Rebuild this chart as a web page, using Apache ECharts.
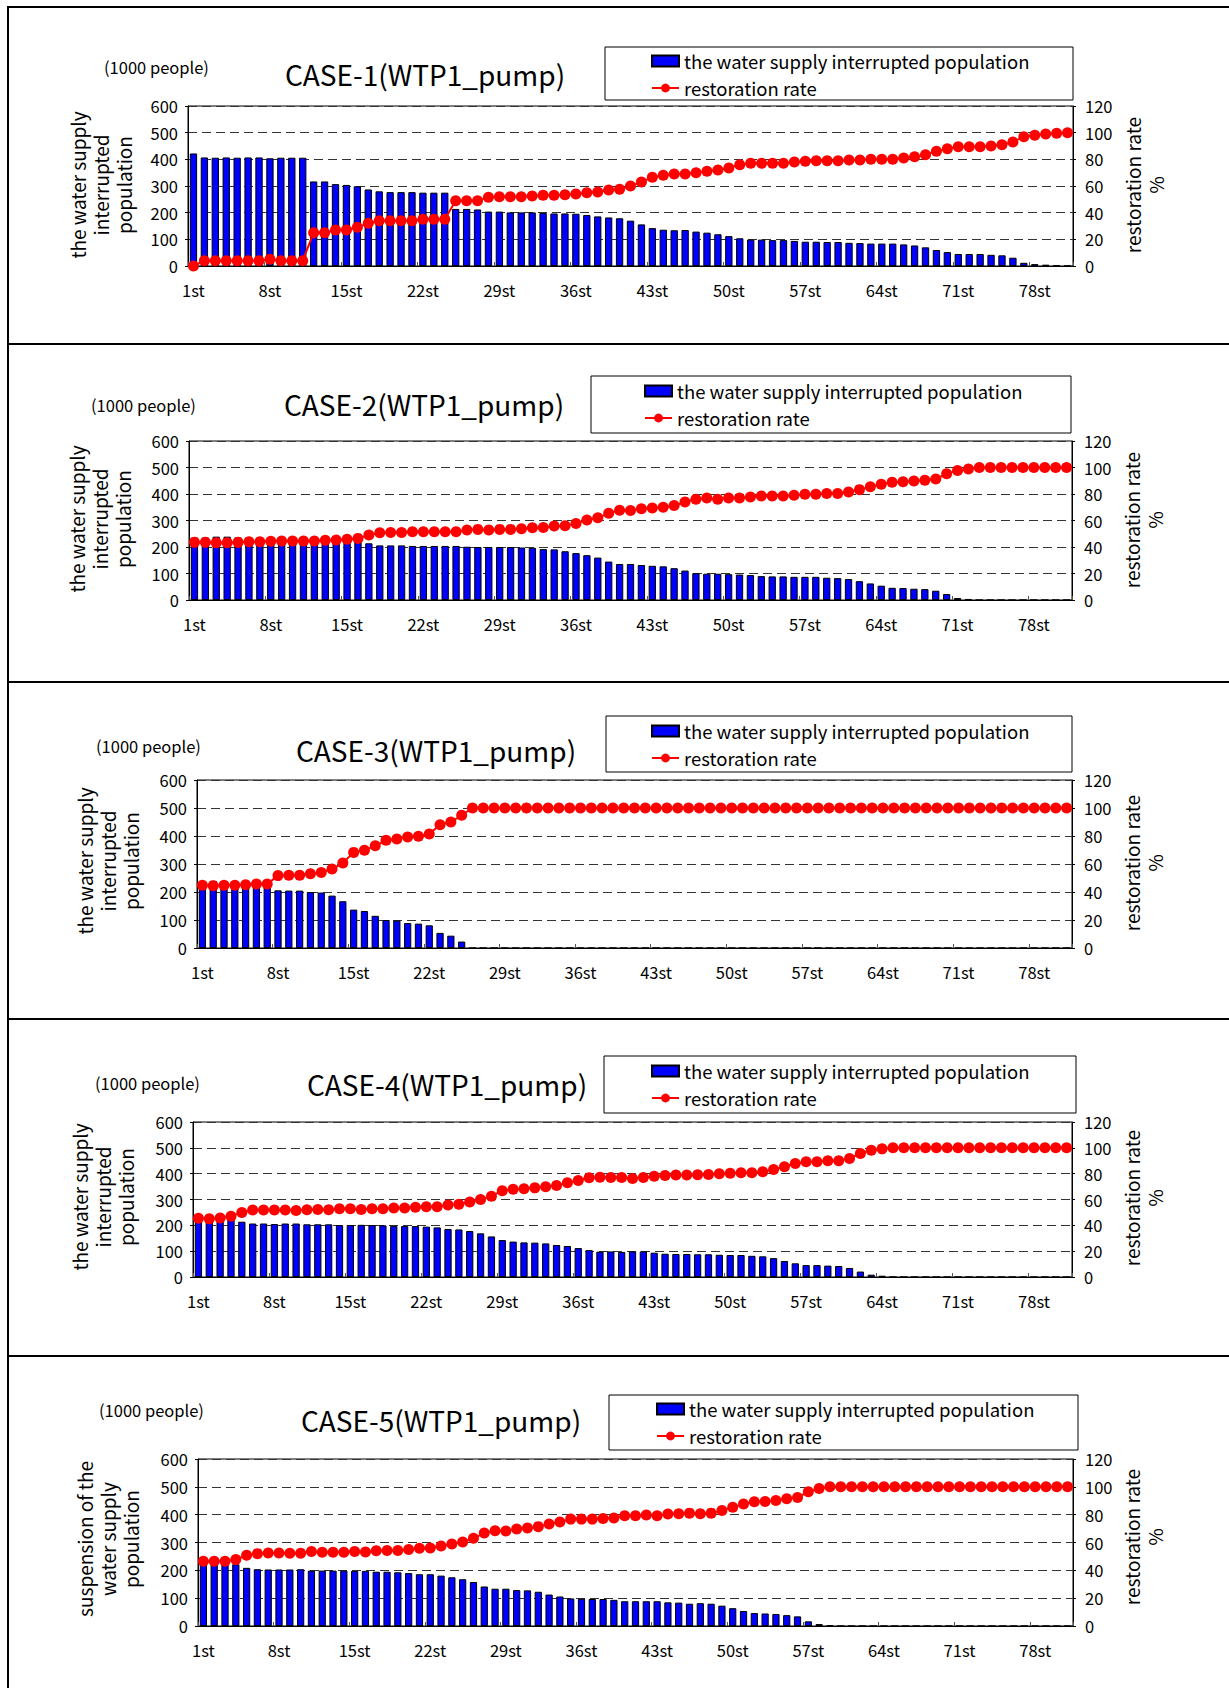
<!DOCTYPE html>
<html><head><meta charset="utf-8">
<script src="https://cdn.jsdelivr.net/npm/echarts@6/dist/echarts.min.js"></script>
<style>html,body{margin:0;padding:0;background:#fff}#c{width:1229px;height:1688px}</style>
</head><body><div id="c"></div>
<script>
// ---------- DATA ----------
const categories = ["1st","2st","3st","4st","5st","6st","7st","8st","9st","10st",
"11st","12st","13st","14st","15st","16st","17st","18st","19st","20st",
"21st","22st","23st","24st","25st","26st","27st","28st","29st","30st",
"31st","32st","33st","34st","35st","36st","37st","38st","39st","40st",
"41st","42st","43st","44st","45st","46st","47st","48st","49st","50st",
"51st","52st","53st","54st","55st","56st","57st","58st","59st","60st",
"61st","62st","63st","64st","65st","66st","67st","68st","69st","70st",
"71st","72st","73st","74st","75st","76st","77st","78st","79st","80st","81st"];

const popTicks = [0,100,200,300,400,500,600];
const rateTicks = [0,20,40,60,80,100,120];

const seriesNames = ["the water supply interrupted population","restoration rate"];
const titles = ["CASE-1(WTP1_pump)","CASE-2(WTP1_pump)","CASE-3(WTP1_pump)","CASE-4(WTP1_pump)","CASE-5(WTP1_pump)"];
const unitLabel = "(1000 people)";
const leftAxisNames = ["the water supply\ninterrupted\npopulation","the water supply\ninterrupted\npopulation","the water supply\ninterrupted\npopulation","the water supply\ninterrupted\npopulation","suspension of the\nwater supply\npopulation"];
const rightAxisName = "restoration rate\n%";

const pop1 = [422,407,406,407,406,407,407,404,406,406,
406,317,317,307,304,299,287,280,277,277,
277,275,275,275,214,214,212,204,204,201,
201,201,199,197,197,196,191,186,182,179,
170,156,142,136,134,135,129,125,119,112,
104,99,99,97,97,94,91,91,90,90,
87,86,84,84,84,81,77,70,60,52,
45,45,45,42,40,31,12,7,5,2,1];
const rate1 = [0,4,4,4,4,4,4,5,4,4,
4,25,25,27,27,29,32,34,34,34,
34,35,35,35,49,49,49,51.5,52,52,
52,52.5,53,53,53.5,54,55,55.5,57,57.5,
60,63,66.5,68,69,69,70,71,72,73.5,
76,77,77,77,77,78,78.5,79,79,79,
79.5,79.5,80,80,80,81,82,83.5,86,88,
89.5,89.5,89.5,90,91,93,97,98,99,99.5,100];

const pop2 = [236,236,239,239,236,236,236,235,233,233,
233,233,233,233,233,230,214,206,206,206,
204,204,204,204,204,201,200,200,200,200,
198,197,192,191,184,177,169,160,145,136,
136,132,129,127,120,111,101,99,99,97.5,
96,94,90,89,89,87.5,87.5,87.5,84,82.5,
79,71,62.5,54,46,45,42.5,41,35,22.5,
7.5,4,0,0,0,0,0,0,0,0,0];
const rate2 = [43.5,43.5,43.3,43.3,43.5,44,44,44.3,44.5,44.5,
44.5,44.5,45,45.3,45.8,46.5,49,50.8,51,51,
51.5,51.5,51.5,51.5,51.5,52.8,53.3,52.8,53.3,53.3,
53.8,54.5,54.8,55.8,56,57.8,60.3,62,65.5,67.8,
67.5,68.8,69.5,70,71.3,74,76,77,76,77,
77,77.8,78.5,78.5,78.5,79,79.8,79.8,80.3,80.3,
81.5,83.3,85.5,87.3,88.8,89.3,89.8,90.3,91.3,95.3,
97.8,98.8,100,100,100,100,100,100,100,100,100];

const pop3 = [236,240,236,236,236,236,232,206,205,205,
200,198,187,167,137,132,115,100,98,89,
87,81,54,44,23,0,0,0,0,0,
0,0,0,0,0,0,0,0,0,0,
0,0,0,0,0,0,0,0,0,0,
0,0,0,0,0,0,0,0,0,0,
0,0,0,0,0,0,0,0,0,0,
0,0,0,0,0,0,0,0,0,0,0];
const rate3 = [44.8,44.5,44.8,44.8,45.2,45.7,45.7,51.7,52,52,
53,54,56.4,60.7,68.3,69.8,73,76.9,77.9,79.3,
79.8,81.4,88,90,94.8,100,100,100,100,100,
100,100,100,100,100,100,100,100,100,100,
100,100,100,100,100,100,100,100,100,100,
100,100,100,100,100,100,100,100,100,100,
100,100,100,100,100,100,100,100,100,100,
100,100,100,100,100,100,100,100,100,100,100];

const pop4 = [222,220,220,228,214,207,207,205,207,207,
204,204,204,201,201,202,201,200,198,197,
197,195,192,186,184,178,169,157,143,137,
134,133,130,124,120,112,104,98,99,97,
99,99,94,90,89,89,88,88,86,85,
85,82,80,73,62,53,46,46,44,42.5,
35,21,9,5,0,0,0,0,0,0,
0,0,0,0,0,0,0,0,0,0,0];
const rate4 = [45.4,45,45.6,47,50,51.8,51.8,51.8,51.8,51.5,
52,52.3,52,52.8,52.8,52.3,52.8,52.8,53.4,53.4,
54,54.4,54.4,55.7,56.4,58,60,62.6,66.8,68,
68.3,69,69.8,70.9,73,74.7,76.8,77.3,77,77,
76.3,77,78,78.6,79,79,79.2,79.4,80,80.4,
80.7,80.7,81.4,83.2,85.3,87.9,89.2,89.2,90,90,
91.8,95.6,98.2,99.2,100,100,100,100,100,100,
100,100,100,100,100,100,100,100,100,100,100];

const pop5 = [225,225,225,222,209,204,203,203,203,204,
199,199,199,199,198,198,195,195,193,190,
186,186,181,175,168,158,142,134,134,129,
128,123,113,106,99,98,97,97,94,89,
89,89,89,85,84,80,82,80,73,64,
54,46.5,45,43,39,34.6,16.7,7,3.5,0,
0,0,0,0,0,0,0,0,0,0,
0,0,0,0,0,0,0,0,0,0,0];
const rate5 = [46.5,46.5,46.5,47.7,50.8,52,52.5,52.5,52.3,52.3,
53.5,53,53,53,53.5,53.2,54,54.2,54.2,54.9,
55.8,56,57.5,59,60.4,63,66.8,68.5,68.3,69.7,
70.4,71.4,73.3,74.7,76.8,76.8,76.8,77.3,77.6,79.2,
79.2,79.7,79.2,80.4,80.7,81.1,80.7,81.1,83,85.4,
87.6,89.3,89.5,90.2,91.4,92.4,96.4,98.8,100,100,
100,100,100,100,100,100,100,100,100,100,
100,100,100,100,100,100,100,100,100,100,100];

const popSeries = [pop1,pop2,pop3,pop4,pop5];
const rateSeries = [rate1,rate2,rate3,rate4,rate5];

// ---------- LAYOUT (positions / styles) ----------
const FONT = '"Noto Sans CJK JP","Noto Sans",sans-serif';
const layout = [
  {grid:{left:188,top:106,width:885,height:160}, title:[425,74], unit:[104,67], lname:[100,185], rname:[1144,185], box:[605,47,468,53], legend:[651,51]},
  {grid:{left:189,top:441,width:883,height:159}, title:[424,404], unit:[91,405], lname:[99,519], rname:[1143,520], box:[591,376,480,57], legend:[644,381]},
  {grid:{left:197,top:780,width:875,height:168}, title:[436,750], unit:[96,746], lname:[107,861], rname:[1143,863], box:[606,716,466,56], legend:[651,721]},
  {grid:{left:193,top:1122,width:879,height:155}, title:[447,1084], unit:[95,1083], lname:[102,1197], rname:[1143,1198], box:[604,1056,472,57], legend:[651,1061]},
  {grid:{left:198,top:1459,width:875,height:167}, title:[441,1420], unit:[99,1410], lname:[107,1539], rname:[1143,1537], box:[609,1395,469,55], legend:[656,1399]}
];

const grids=[], xAxes=[], yAxes=[], series=[], legends=[], graphics=[];
layout.forEach((L,i)=>{
  grids.push(Object.assign({show:true,borderColor:'#000',borderWidth:1,containLabel:false,outerBoundsMode:'none'},L.grid));
  xAxes.push({type:'category',gridIndex:i,data:categories,boundaryGap:true,
    axisLine:{show:true,lineStyle:{color:'#000',width:1}},
    axisTick:{show:true,inside:true,interval:6,length:4,lineStyle:{color:'#555'}},
    axisLabel:{interval:6,margin:16,fontSize:16.5,color:'#000',fontFamily:FONT},
    splitLine:{show:false}});
  yAxes.push({type:'value',gridIndex:i,position:'left',min:popTicks[0],max:popTicks[popTicks.length-1],interval:popTicks[1]-popTicks[0],
    axisLine:{show:true,lineStyle:{color:'#000'}},axisTick:{show:true,length:3,lineStyle:{color:'#000'}},
    axisLabel:{margin:10,fontSize:16.5,color:'#000',fontFamily:FONT},
    splitLine:{show:true,lineStyle:{type:[9,5],color:'#333',width:1}}});
  yAxes.push({type:'value',gridIndex:i,position:'right',min:rateTicks[0],max:rateTicks[rateTicks.length-1],interval:rateTicks[1]-rateTicks[0],
    axisLine:{show:true,lineStyle:{color:'#000'}},axisTick:{show:true,length:3,lineStyle:{color:'#000'}},
    axisLabel:{margin:12,fontSize:16.5,color:'#000',fontFamily:FONT},
    splitLine:{show:false}});
  series.push({name:seriesNames[0],type:'bar',xAxisIndex:i,yAxisIndex:2*i,data:popSeries[i],
    barCategoryGap:'33%',itemStyle:{color:'#0000FF',borderColor:'#000',borderWidth:1},z:2});
  series.push({name:seriesNames[1],type:'line',xAxisIndex:i,yAxisIndex:2*i+1,data:rateSeries[i],
    symbol:'circle',symbolSize:11,showSymbol:true,showAllSymbol:true,lineStyle:{color:'#FF0000',width:2},itemStyle:{color:'#FF0000'},z:3});
  legends.push({left:L.legend[0],top:L.legend[1],orient:'vertical',itemWidth:27,itemHeight:11,itemGap:7,padding:0,
    textStyle:{fontSize:18.5,lineHeight:20,color:'#000',fontFamily:FONT},
    data:[{name:seriesNames[0],icon:'rect'},{name:seriesNames[1]}]});
  graphics.push({type:'rect',shape:{x:L.box[0],y:L.box[1],width:L.box[2],height:L.box[3]},style:{fill:null,stroke:'#000',lineWidth:1},z:1});
  graphics.push({type:'text',x:L.title[0],y:L.title[1],style:{text:titles[i],textAlign:'center',textVerticalAlign:'middle',fontSize:28,fontFamily:FONT,fill:'#000'}});
  graphics.push({type:'text',x:L.unit[0],y:L.unit[1],style:{text:unitLabel,textAlign:'left',textVerticalAlign:'middle',fontSize:16.5,fontFamily:FONT,fill:'#000'}});
  graphics.push({type:'text',x:L.lname[0],y:L.lname[1],rotation:Math.PI/2,style:{text:leftAxisNames[i],textAlign:'center',textVerticalAlign:'middle',fontSize:19,lineHeight:23,fontFamily:FONT,fill:'#000'}});
  graphics.push({type:'text',x:L.rname[0],y:L.rname[1],rotation:Math.PI/2,style:{text:rightAxisName,textAlign:'center',textVerticalAlign:'middle',fontSize:19,lineHeight:23,fontFamily:FONT,fill:'#000'}});
});
// frame lines
[7,344,682,1019,1356].forEach(y=>{
  graphics.push({type:'line',shape:{x1:7,y1:y,x2:1229,y2:y},style:{stroke:'#000',lineWidth:2}});
});
graphics.push({type:'line',shape:{x1:8,y1:6,x2:8,y2:1688},style:{stroke:'#000',lineWidth:2}});

const chart = echarts.init(document.getElementById('c'),null,{renderer:'svg'});
chart.setOption({
  animation:false,
  backgroundColor:'#fff',
  textStyle:{fontFamily:FONT},
  grid:grids, xAxis:xAxes, yAxis:yAxes, series:series, legend:legends,
  graphic:{elements:graphics},
  tooltip:{show:false}
});
</script></body></html>
